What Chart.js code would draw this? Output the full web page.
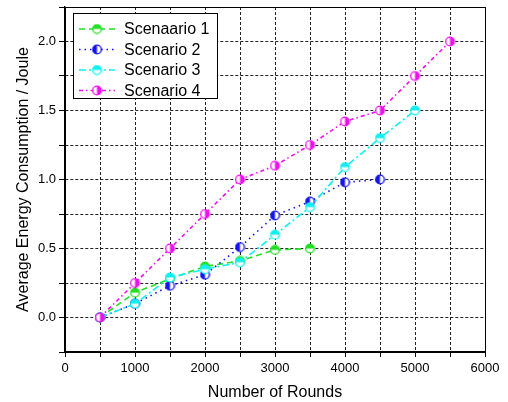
<!DOCTYPE html>
<html>
<head>
    <title>Average Energy Consumption</title>
    <script src="https://cdn.jsdelivr.net/npm/chart.js"></script>
    <style>
        body { margin: 0; background: #ffffff; }
        #wrap { width: 508px; height: 402px; }
    </style>
</head>
<body>
    <div id="wrap"><canvas id="energyChart"></canvas></div>

    <script>
        // Data
        var rounds = [500, 1000, 1500, 2000, 2500, 3000, 3500, 4000, 4500, 5000, 5500];
        var scenario1 = [0, 0.18, 0.28, 0.37, 0.41, 0.49, 0.50];
        var scenario2 = [0, 0.10, 0.23, 0.31, 0.51, 0.74, 0.84, 0.98, 1.00];
        var scenario3 = [0, 0.10, 0.29, 0.35, 0.40, 0.60, 0.80, 1.09, 1.30, 1.50];
        var scenario4 = [0, 0.25, 0.50, 0.75, 1.00, 1.10, 1.25, 1.42, 1.50, 1.75, 2.00];
        var seriesLabels = ['Scenaario 1', 'Scenario 2', 'Scenario 3', 'Scenario 4'];
        var xTickLabels = ['0', '1000', '2000', '3000', '4000', '5000', '6000'];
        var yTickLabels = ['0.0', '0.5', '1.0', '1.5', '2.0'];

        var FONT = "'Liberation Sans', Arial, sans-serif";

        // Half filled circle marker, like the Origin ones
        function makeMarker(color, half) {
            var c = document.createElement('canvas');
            c.width = 11; c.height = 11;
            var ctx = c.getContext('2d');
            var cx = 5.5, cy = 5.5, r = 4.3;
            ctx.fillStyle = '#ffffff';
            ctx.beginPath(); ctx.arc(cx, cy, r, 0, Math.PI * 2); ctx.fill();
            ctx.fillStyle = color;
            ctx.beginPath();
            var start = { top: Math.PI, left: Math.PI / 2, right: -Math.PI / 2 }[half];
            ctx.arc(cx, cy, r, start, start + Math.PI);
            ctx.closePath();
            ctx.fill();
            ctx.strokeStyle = color;
            ctx.lineWidth = 1.3;
            ctx.beginPath(); ctx.arc(cx, cy, r, 0, Math.PI * 2); ctx.stroke();
            return c;
        }

        function toPoints(values) {
            return values.map(function(v, i) { return { x: rounds[i], y: v }; });
        }

        var colors = ['#22e022', '#1515e8', '#10f0f0', '#f010f0'];
        var dashes = [[6, 4], [1.5, 4], [7, 3, 2, 3], [4, 3, 1.5, 3]];
        var halves = ['top', 'left', 'top', 'right'];
        var values = [scenario1, scenario2, scenario3, scenario4];

        var datasets = values.map(function(vals, i) {
            return {
                label: seriesLabels[i],
                data: toPoints(vals),
                borderColor: colors[i],
                backgroundColor: colors[i],
                borderWidth: 1.6,
                borderDash: dashes[i],
                pointStyle: makeMarker(colors[i], halves[i]),
                order: 4 - i,
                fill: false
            };
        });

        // Box frame and legend drawn inside the plot
        var framePlugin = {
            id: 'framePlugin',
            afterDraw: function(chart) {
                var ctx = chart.ctx;
                var a = chart.chartArea;
                ctx.save();
                ctx.strokeStyle = '#000';
                ctx.lineWidth = 1;
                ctx.setLineDash([]);
                ctx.strokeRect(a.left + 0.5, a.top + 0.5, a.right - a.left, a.bottom - a.top);

                // legend
                var lx = a.left + 8, ly = a.top + 6, lw = 144, lh = 85;
                ctx.fillStyle = '#fff';
                ctx.fillRect(lx, ly, lw, lh);
                ctx.strokeRect(lx + 0.5, ly + 0.5, lw, lh);
                ctx.font = '16px ' + FONT;
                ctx.textBaseline = 'middle';
                chart.data.datasets.forEach(function(ds, i) {
                    var y = ly + 16 + i * 20.5;
                    ctx.strokeStyle = ds.borderColor;
                    ctx.lineWidth = ds.borderWidth;
                    ctx.setLineDash(ds.borderDash);
                    ctx.beginPath();
                    ctx.moveTo(lx + 6, y);
                    ctx.lineTo(lx + 42, y);
                    ctx.stroke();
                    ctx.setLineDash([]);
                    ctx.drawImage(ds.pointStyle, lx + 24 - 5.5, y - 5.5);
                    ctx.fillStyle = '#000';
                    ctx.fillText(ds.label, lx + 51, y + 1);
                });
                ctx.restore();
            }
        };

        var ctx = document.getElementById('energyChart').getContext('2d');
        new Chart(ctx, {
            type: 'line',
            data: { datasets: datasets },
            plugins: [framePlugin],
            options: {
                responsive: true,
                maintainAspectRatio: false,
                animation: false,
                layout: { padding: { left: 0, right: 23, top: 7, bottom: 0 } },
                plugins: {
                    legend: { display: false },
                    tooltip: { enabled: false }
                },
                scales: {
                    x: {
                        type: 'linear',
                        min: 0,
                        max: 6000,
                        afterFit: function(scale) { scale.height = 50; },
                        ticks: {
                            stepSize: 500,
                            autoSkip: false,
                            maxRotation: 0,
                            color: '#000',
                            font: { family: FONT, size: 13 },
                            padding: 4,
                            callback: function(v) {
                                return v % 1000 === 0 ? xTickLabels[v / 1000] : '';
                            }
                        },
                        grid: {
                            color: '#222',
                            lineWidth: 1,
                            tickLength: 5,
                            tickColor: '#000',
                            tickBorderDash: []
                        },
                        border: { display: true, color: '#000', width: 1.3, dash: [3, 2] },
                        title: {
                            display: true,
                            text: 'Number of Rounds',
                            color: '#000',
                            font: { family: FONT, size: 16 },
                            padding: { top: 0, bottom: 0 }
                        }
                    },
                    y: {
                        min: -0.25,
                        max: 2.25,
                        afterFit: function(scale) {
                            scale.width = 65;
                            scale.paddingTop = 0;
                            scale.paddingBottom = 0;
                        },
                        ticks: {
                            stepSize: 0.25,
                            autoSkip: false,
                            color: '#000',
                            font: { family: FONT, size: 13 },
                            padding: 3,
                            callback: function(v) {
                                var k = Math.round(v * 4);
                                return (k % 2 === 0 && k >= 0) ? yTickLabels[k / 2] : '';
                            }
                        },
                        grid: {
                            color: '#222',
                            lineWidth: 1,
                            tickLength: 6,
                            tickColor: '#000',
                            tickBorderDash: []
                        },
                        border: { display: true, color: '#000', width: 1.3, dash: [3, 2] },
                        title: {
                            display: true,
                            text: 'Average Energy Consumption / Joule',
                            color: '#000',
                            font: { family: FONT, size: 16 },
                            padding: { top: 14, bottom: 0 }
                        }
                    }
                }
            }
        });
    </script>
</body>
</html>
